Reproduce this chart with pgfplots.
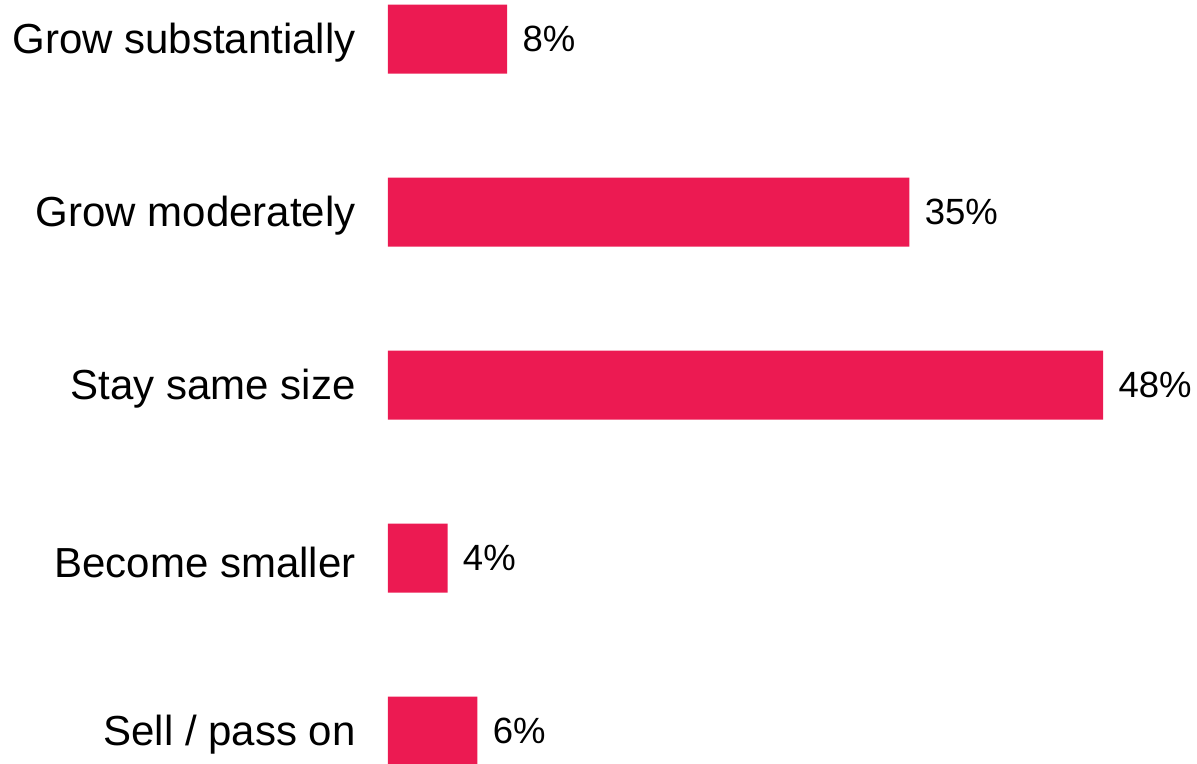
\documentclass[border=0pt]{standalone}
\usepackage{pgfplots}
\pgfplotsset{compat=1.18}
\usepackage{fontspec}
\setmainfont{Liberation Sans}
\definecolor{barred}{RGB}{236,26,82}
\begin{document}
\begin{tikzpicture}
\begin{axis}[
  scale only axis,
  width=404.5pt, height=381.5pt,
  xbar, bar width=34.5pt, bar shift=0pt,
  xmin=0, xmax=54.3,
  ymin=-0.2254, ymax=4.185,
  y dir=reverse,
  axis line style={draw=none},
  xtick=\empty,
  ytick={0,1,2,3,4},
  yticklabels={Grow substantially,Grow moderately,Stay same size,Become smaller,Sell / pass on},
  major tick length=0pt,
  tick style={draw=none},
  yticklabel style={font=\fontsize{21}{24}\selectfont, inner sep=0pt, anchor=east, xshift=-16pt, yshift=-2pt},
  point meta=x,
  /pgf/number format/assume math mode=true,
  nodes near coords={\pgfmathprintnumber{\pgfplotspointmeta}\%},
  nodes near coords style={font=\fontsize{18.25}{21}\selectfont, anchor=west, inner sep=0pt, xshift=7.5pt, text=black},
]
\addplot[fill=barred, draw=none] coordinates {(8,0) (35,1) (48,2) (4,3) (6,4)};
\end{axis}
\pgfresetboundingbox
\path (current axis.south west) ++(-194pt,0pt) rectangle (current axis.north east);
\end{tikzpicture}
\end{document}
